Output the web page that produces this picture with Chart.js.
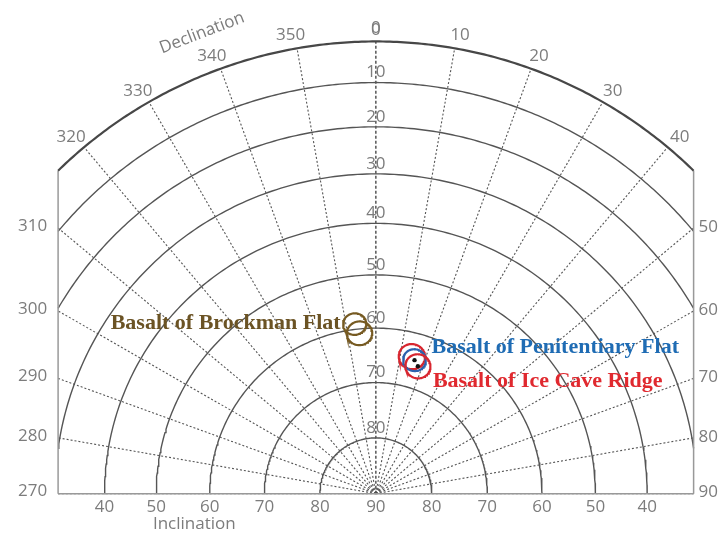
<!DOCTYPE html>
<html>
<head>
<meta charset="utf-8">
<script src="https://cdn.jsdelivr.net/npm/chart.js@4/dist/chart.umd.min.js"></script>
<style>
  html, body { margin: 0; padding: 0; background: #ffffff; }
  canvas { display: block; }
</style>
</head>
<body>
<canvas id="stereonet" width="725" height="540"></canvas>
<script>
// ---- Site mean directions (degrees): declination, inclination, cone of 95% confidence ----
const siteNames = ['Basalt of Brockman Flat', 'Basalt of Penitentiary Flat', 'Basalt of Ice Cave Ridge'];
const brockmanDec = [352.9, 354.2];
const brockmanInc = [59.0, 60.8];
const brockmanA95 = [2.0, 2.2];
const penitentiaryDec = [16.1];
const penitentiaryInc = [64.9];
const penitentiaryA95 = [2.0];
const iceCaveDec = [14.7, 18.2];
const iceCaveInc = [64.4, 65.8];
const iceCaveA95 = [2.3, 2.2];

// ---- Net graticule ----
const declinationTicks = [270, 280, 290, 300, 310, 320, 330, 340, 350, 0, 10, 20, 30, 40, 50, 60, 70, 80, 90];
const inclinationCircles = [10, 20, 30, 40, 50, 60, 70, 80];
const inclinationAxisTicks = [10, 20, 30, 40, 50, 60, 70, 80];
const bottomInclinationTicks = [40, 50, 60, 70, 80, 90];
const arcDeclinationLabels = [320, 330, 340, 350, 0, 10, 20, 30, 40];
const leftDeclinationLabels = [310, 300, 290, 280, 270];
const rightDeclinationLabels = [50, 60, 70, 80, 90];

const RAD = Math.PI / 180;
const HALF_WIDTH = 0.70;           // net is cut off at |x| = 0.70 of the primitive radius
const PX = 459;                    // primitive circle radius in pixels
const CX = 376, CY = 497;          // pole of the net on the canvas

// Lambert equal-area radius for an inclination (primitive = 1)
function eqArea(inc) { return Math.SQRT2 * Math.sin((90 - inc) / 2 * RAD); }
function project(dec, inc) {
  const r = eqArea(inc);
  return { x: r * Math.sin(dec * RAD), y: r * Math.cos(dec * RAD) };
}
function arcPoints(r) {
  const tMax = r > HALF_WIDTH ? Math.asin(HALF_WIDTH / r) : Math.PI / 2;
  const pts = [];
  const n = 200;
  for (let k = 0; k <= n; k++) {
    const t = -tMax + 2 * tMax * k / n;
    pts.push({ x: r * Math.sin(t), y: r * Math.cos(t) });
  }
  return pts;
}
function radialPoints(dec) {
  const s = Math.sin(dec * RAD), c = Math.cos(dec * RAD);
  const rEnd = Math.abs(s) > 1e-9 ? Math.min(1, HALF_WIDTH / Math.abs(s)) : 1;
  return [{ x: 0, y: 0 }, { x: rEnd * s, y: rEnd * c }];
}
// small circle of angular radius a around (dec, inc)
function smallCircle(dec, inc, a) {
  const d = dec * RAD, i = inc * RAD, al = a * RAD;
  const m = [Math.cos(i) * Math.cos(d), Math.cos(i) * Math.sin(d), Math.sin(i)];
  const u = [-Math.sin(i) * Math.cos(d), -Math.sin(i) * Math.sin(d), Math.cos(i)];
  const v = [-Math.sin(d), Math.cos(d), 0];
  const pts = [];
  for (let k = 0; k <= 90; k++) {
    const t = 2 * Math.PI * k / 90;
    const p = [0, 1, 2].map(j => m[j] * Math.cos(al) + Math.sin(al) * (Math.cos(t) * u[j] + Math.sin(t) * v[j]));
    const I = Math.asin(p[2]) / RAD;
    const D = Math.atan2(p[1], p[0]) / RAD;
    pts.push(project(D, I));
  }
  return pts;
}

function lineSet(points, color, width, dash, order) {
  return {
    data: points, showLine: true, borderColor: color, borderWidth: width,
    borderDash: dash || [], pointRadius: 0, pointHoverRadius: 0, tension: 0,
    fill: false, order: order
  };
}

const datasets = [];
// declination lines
declinationTicks.forEach(d => {
  const central = d === 0;
  datasets.push(lineSet(radialPoints(d), central ? '#4a4a4a' : '#555555', central ? 1.4 : 1.1, central ? [3, 2] : [2, 2], 20));
});
// inclination circles
inclinationCircles.forEach(inc => datasets.push(lineSet(arcPoints(eqArea(inc)), '#555555', 1.4, null, 19)));
// primitive and frame
datasets.push(lineSet(arcPoints(1), '#474747', 2.2, null, 18));
const sideTop = Math.sqrt(1 - HALF_WIDTH * HALF_WIDTH);
datasets.push(lineSet([{ x: -HALF_WIDTH, y: 0 }, { x: -HALF_WIDTH, y: sideTop }], '#999999', 1.5, null, 18));
datasets.push(lineSet([{ x: HALF_WIDTH, y: 0 }, { x: HALF_WIDTH, y: sideTop }], '#999999', 1.5, null, 18));
datasets.push(lineSet([{ x: -HALF_WIDTH, y: 0 }, { x: HALF_WIDTH, y: 0 }], '#999999', 1.5, null, 18));

// confidence circles
const BROWN = '#765a22', BLUE = '#2d62ad', RED = '#d8262f';
brockmanDec.forEach((d, k) => datasets.push(lineSet(smallCircle(d, brockmanInc[k], brockmanA95[k]), BROWN, 2.2, null, 5 - k)));
datasets.push(lineSet(smallCircle(iceCaveDec[0], iceCaveInc[0], iceCaveA95[0]), RED, 2.2, null, 4));
datasets.push(lineSet(smallCircle(penitentiaryDec[0], penitentiaryInc[0], penitentiaryA95[0]), BLUE, 2.2, null, 3));
datasets.push(lineSet(smallCircle(iceCaveDec[1], iceCaveInc[1], iceCaveA95[1]), RED, 2.2, null, 2));
// mean directions
datasets.push({
  data: [project(penitentiaryDec[0], penitentiaryInc[0]), project(iceCaveDec[1], iceCaveInc[1])],
  showLine: false, pointRadius: 2.2, pointBackgroundColor: '#111111', pointBorderWidth: 0, order: 1
});

const GRAY = '#7c7c7c';
const TICK_FONT = '17px "Open Sans", sans-serif';

const labelsPlugin = {
  id: 'netLabels',
  afterDatasetsDraw(chart) {
    const ctx = chart.ctx;
    const xs = chart.scales.x, ys = chart.scales.y;
    const px = v => xs.getPixelForValue(v), py = v => ys.getPixelForValue(v);
    ctx.save();
    ctx.font = TICK_FONT;
    ctx.fillStyle = GRAY;
    ctx.textBaseline = 'middle';

    // declination values round the primitive
    ctx.textAlign = 'center';
    arcDeclinationLabels.forEach(d => {
      const s = Math.sin(d * RAD), c = Math.cos(d * RAD);
      const x = px(s) + s * 14 + (s < -0.01 ? -4 : (s > 0.01 ? 3 : 0));
      const y = py(c) - c * 14 + 1;
      ctx.fillText(String(d), x, y);
    });
    // declination values on the cut edges
    ctx.textAlign = 'right';
    leftDeclinationLabels.forEach(d => {
      const y = HALF_WIDTH / Math.tan((360 - d) * RAD);
      ctx.fillText(String(d), px(-HALF_WIDTH) - 11, py(y) - 2);
    });
    ctx.textAlign = 'left';
    rightDeclinationLabels.forEach(d => {
      const y = HALF_WIDTH / Math.tan(d * RAD);
      ctx.fillText(String(d), px(HALF_WIDTH) + 5, py(y) - 1);
    });
    // inclination values along the 0 declination line
    ctx.textAlign = 'center';
    ctx.fillText('0', px(0), py(1) - 11);
    inclinationAxisTicks.forEach(inc => ctx.fillText(String(inc), px(0), py(eqArea(inc)) - 10));
    // inclination values under the base line
    bottomInclinationTicks.forEach(inc => {
      const r = eqArea(inc);
      ctx.fillText(String(inc), px(-r), py(0) + 14);
      if (inc !== 90) ctx.fillText(String(inc), px(r), py(0) + 14);
    });
    ctx.fillText('Inclination', px(-0.4), py(0) + 31);
    // axis title along the primitive
    ctx.save();
    ctx.translate(202, 33);
    ctx.rotate(-21 * RAD);
    ctx.fillText('Declination', 0, 0);
    ctx.restore();

    // site names
    ctx.font = 'bold 22px "Liberation Serif", "Times New Roman", serif';
    const b = project(brockmanDec[0], brockmanInc[0]);
    ctx.fillStyle = '#6b5324';
    ctx.textAlign = 'right';
    ctx.fillText(siteNames[0], px(b.x) - 14, py(b.y) - 1);
    const p = project(penitentiaryDec[0], penitentiaryInc[0]);
    ctx.fillStyle = '#1f6cb4';
    ctx.textAlign = 'left';
    ctx.fillText(siteNames[1], px(p.x) + 17, py(p.y) - 13);
    const ic = project(iceCaveDec[1], iceCaveInc[1]);
    ctx.fillStyle = '#e0292f';
    ctx.fillText(siteNames[2], px(ic.x) + 15, py(ic.y) + 15);
    ctx.restore();
  }
};

new Chart(document.getElementById('stereonet'), {
  type: 'scatter',
  data: { datasets },
  options: {
    responsive: false,
    animation: false,
    devicePixelRatio: 1,
    layout: { padding: 0 },
    plugins: { legend: { display: false }, tooltip: { enabled: false } },
    events: [],
    scales: {
      x: { type: 'linear', display: false, min: (0 - CX) / PX, max: (725 - CX) / PX },
      y: { type: 'linear', display: false, min: (CY - 540) / PX, max: CY / PX }
    }
  },
  plugins: [labelsPlugin]
});
</script>
</body>
</html>
